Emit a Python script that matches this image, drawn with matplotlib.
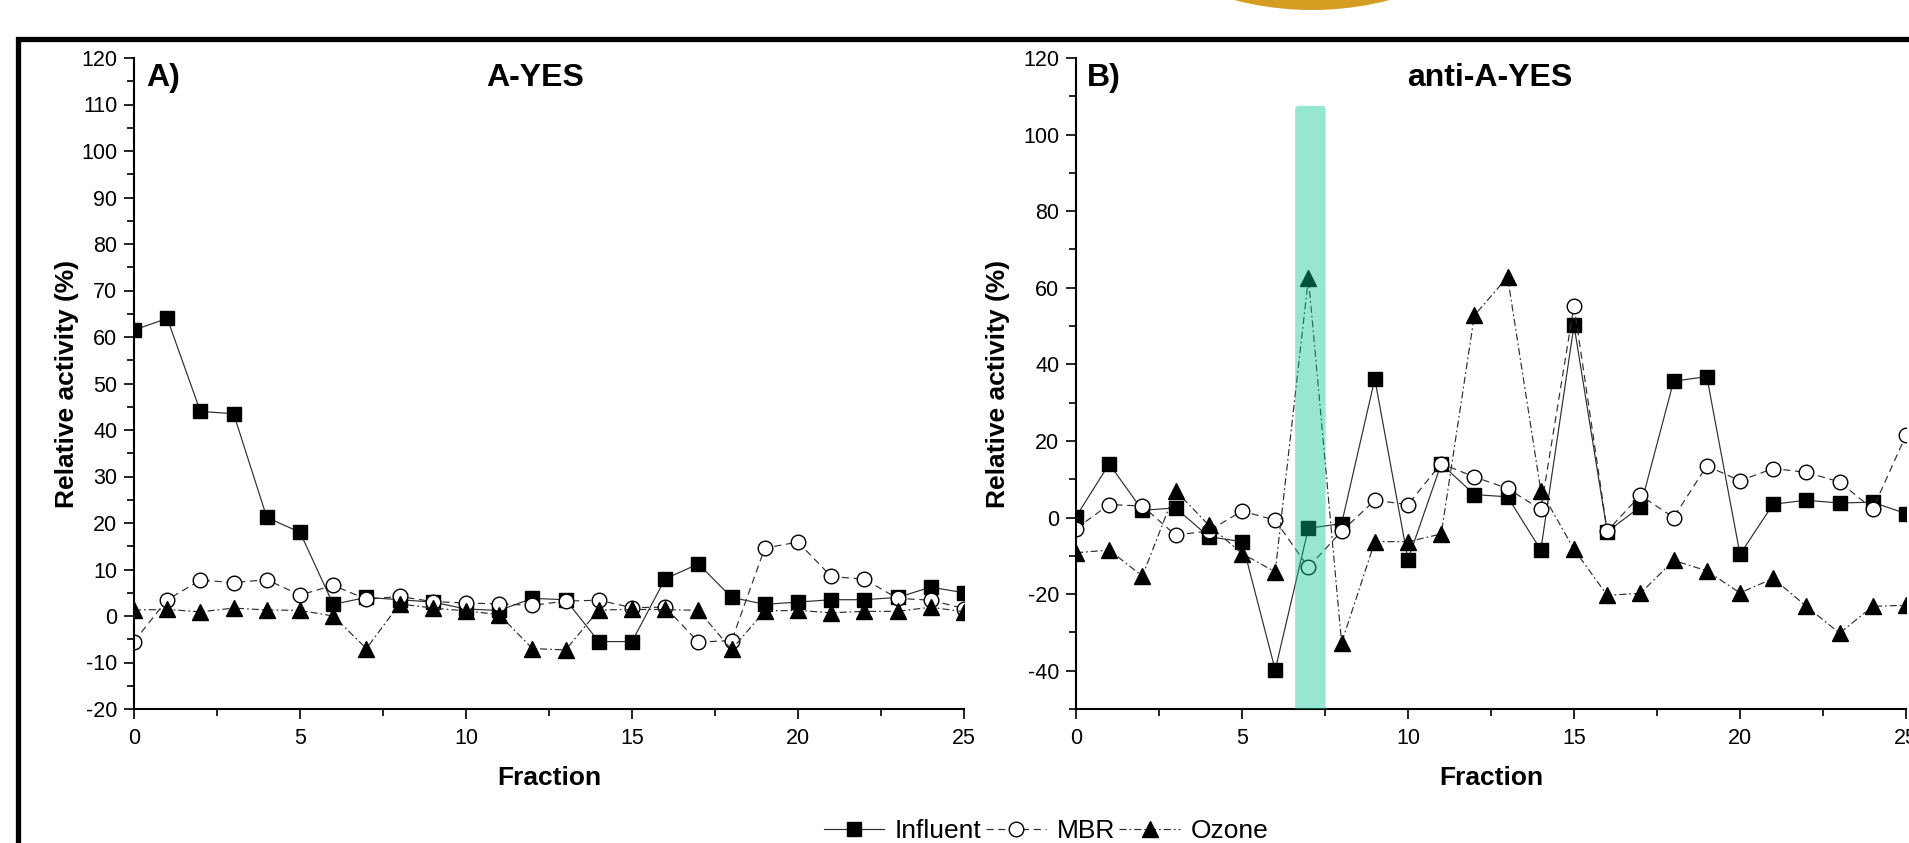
import matplotlib
matplotlib.use("Agg")
import matplotlib.pyplot as plt
from matplotlib.ticker import MultipleLocator
from matplotlib.patches import FancyBboxPatch, Rectangle, Ellipse

plt.rcParams["font.family"] = ["Liberation Sans", "DejaVu Sans"]
plt.rcParams["axes.unicode_minus"] = False

# fractions collected (x axis)
fraction = list(range(26))

# A) A-YES relative activity (%)
a_influent = [61.5, 64, 44, 43.5, 21.2, 18, 2.5, 4, 3.5, 3, 1.5, 1.2, 3.8, 3.5, -5.5, -5.5,
              8, 11.2, 4, 2.5, 3, 3.5, 3.5, 4, 6.2, 5]
a_mbr = [-5.5, 3.5, 7.7, 7.2, 7.8, 4.5, 6.6, 3.6, 4.2, 3.1, 2.8, 2.6, 2.3, 3.2, 3.4, 1.8,
         1.9, -5.6, -5.3, 14.6, 15.9, 8.5, 7.9, 3.8, 3.4, 1.6]
a_ozone = [1.3, 1.4, 0.9, 1.7, 1.3, 1.2, 0, -7, 2.6, 1.7, 1.1, 0.3, -7, -7.3, 1.3, 1.4,
           1.4, 1.2, -7.2, 1.1, 1.2, 0.7, 1.0, 1.0, 1.9, 0.9]

# B) anti-A-YES relative activity (%)
b_influent = [0.2, 14, 1.9, 2.5, -5, -6.3, -39.8, -2.8, -1.6, 36.2, -11, 14, 6, 5.4, -8.5, 50.2,
              -3.7, 2.8, 35.6, 36.8, -9.6, 3.5, 4.5, 3.8, 4, 1]
b_mbr = [-2.9, 3.4, 3, -4.6, -3.5, 1.7, -0.7, -13, -3.6, 4.5, 3.4, 14.1, 10.6, 7.6, 2.1, 55.3,
         -3.5, 5.8, 0, 13.5, 9.6, 12.8, 11.8, 9.3, 2.2, 21.5]
b_ozone = [-9.2, -8.5, -15.3, 7, -2, -9.4, -14.2, 62.5, -32.7, -6.3, -6.3, -4.3, 52.8, 62.8, 7,
           -8.3, -20.3, -19.8, -11.2, -13.9, -19.7, -15.9, -23.2, -30.2, -23.2, -22.9]

highlight_fraction = 7

W, H = 1909, 843
fig = plt.figure(figsize=(W / 100, H / 100), dpi=100)
fig.patch.set_facecolor("white")

line_col = "#2e2e2e"


def draw_panel(ax, infl, mbr, ozo):
    ax.plot(fraction, infl, color=line_col, lw=0.85, marker="s", ms=10,
            mfc="black", mec="black", label="Influent")
    ax.plot(fraction, mbr, color=line_col, lw=0.85, ls=(0, (6, 4)), marker="o", ms=10.5,
            mfc="white", mec="black", mew=1.0, label="MBR")
    ax.plot(fraction, ozo, color=line_col, lw=0.85, ls=(0, (6, 2.5, 1.5, 2.5)), marker="^", ms=11,
            mfc="black", mec="black", label="Ozone")
    ax.set_xlim(0, 25)
    ax.xaxis.set_major_locator(MultipleLocator(5))
    ax.xaxis.set_minor_locator(MultipleLocator(2.5))
    for s in ["top", "right"]:
        ax.spines[s].set_visible(False)
    for s in ["left", "bottom"]:
        ax.spines[s].set_linewidth(1.5)
    ax.tick_params(which="major", direction="out", length=7, width=1.2, labelsize=15.5, pad=5)
    ax.tick_params(which="minor", direction="out", length=5, width=1.2)
    ax.tick_params(axis="x", which="major", pad=7)
    ax.set_facecolor("none")


axA = fig.add_axes([134 / W, 1 - 709 / H, 830 / W, 651 / H])
draw_panel(axA, a_influent, a_mbr, a_ozone)
axA.set_ylim(-20, 120)
axA.yaxis.set_major_locator(MultipleLocator(10))
axA.yaxis.set_minor_locator(MultipleLocator(5))

axB = fig.add_axes([1076 / W, 1 - 709 / H, 830 / W, 651 / H])
draw_panel(axB, b_influent, b_mbr, b_ozone)
axB.set_ylim(-50, 120)
axB.yaxis.set_major_locator(MultipleLocator(20))
axB.yaxis.set_minor_locator(MultipleLocator(10))

# highlighted active fraction in panel B
hl = FancyBboxPatch((highlight_fraction - 0.4, -60), 0.92, 167.5,
                    boxstyle="round,pad=0,rounding_size=0.12", mutation_aspect=8.6,
                    facecolor="#05c894", edgecolor="none", alpha=0.42, zorder=5)
axB.add_patch(hl)

for ax, xl in [(axA, 67), (axB, 998)]:
    ax.set_xlabel("Fraction", fontsize=19, fontweight="bold", va="baseline")
    ax.xaxis.set_label_coords(0.5, -(785 - 709) / 651)
    ax.set_ylabel("Relative activity (%)", fontsize=19, fontweight="bold", va="center")
    ax.yaxis.set_label_coords((xl - ax.get_position().x0 * W) / 830, 0.5)

# panel letters and titles
fig.text(146 / W, 1 - 86 / H, "A)", fontsize=23, fontweight="bold", va="baseline")
fig.text(535 / W, 1 - 86 / H, "A-YES", fontsize=23, fontweight="bold", va="baseline", ha="center")
fig.text(1087 / W, 1 - 86 / H, "B)", fontsize=23, fontweight="bold", va="baseline")
fig.text(1490 / W, 1 - 86 / H, "anti-A-YES", fontsize=23, fontweight="bold", va="baseline", ha="center")

handles, labels = axA.get_legend_handles_labels()
fig.legend(handles, labels, loc="upper center", bbox_to_anchor=(1046 / W, 1 - 819 / H),
           ncol=3, frameon=False, fontsize=19, handlelength=2.3, handletextpad=0.4,
           columnspacing=0.15, borderpad=0, borderaxespad=0)

# outer frame (cut off on right/bottom) and the logo edge above it
fig.patches.append(Rectangle((17.5 / W, -0.2), 1.5, 1.2 - 38.5 / H, transform=fig.transFigure,
                             fill=False, edgecolor="black", lw=3.8, zorder=10))
fig.patches.append(Ellipse((1312 / W, 1 - (10 - 309) / H), 618 / W, 618 / H,
                           transform=fig.transFigure, facecolor="#d69c22", edgecolor="none"))

fig.savefig("out.png", dpi=100)
